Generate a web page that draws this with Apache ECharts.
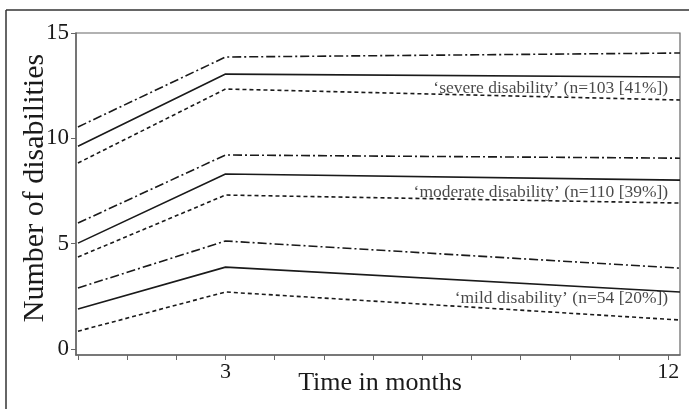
<!DOCTYPE html>
<html>
<head>
<meta charset="utf-8">
<script src="https://cdn.jsdelivr.net/npm/echarts@6/dist/echarts.min.js"></script>
<style>
html,body{margin:0;padding:0;background:#fff;}
#c{width:689px;height:409px;}
</style>
</head>
<body>
<div id="c"></div>
<script>
// Time points (months); last point is at the right edge of the plot
const timePoints = [0, 3, 12.24];

// Severe disability group
const severeUpper = [10.54, 13.86, 14.05];
const severeMean  = [9.63, 13.05, 12.91];
const severeLower = [8.83, 12.34, 11.82];

// Moderate disability group
const moderateUpper = [5.98, 9.21, 9.06];
const moderateMean  = [5.03, 8.31, 8.02];
const moderateLower = [4.37, 7.31, 6.93];

// Mild disability group
const mildUpper = [2.90, 5.13, 3.84];
const mildMean  = [1.90, 3.89, 2.71];
const mildLower = [0.85, 2.71, 1.38];

// Group labels and their anchor positions
const groupLabels = [
  "\u2018severe disability\u2019 (n=103 [41%])",
  "\u2018moderate disability\u2019 (n=110 [39%])",
  "\u2018mild disability\u2019 (n=54 [20%])"
];
const labelX = [12, 12, 12];
const labelY = [12.39, 7.45, 2.42];

const xTicks = [0,1,2,3,4,5,6,7,8,9,10,11,12];
const xTickLabels = [3, 12];
const yTicks = [0, 5, 10, 15];

const FONT = "Liberation Serif";
const INK = "#1a1a1a";

function pts(ys){ return timePoints.map((x,i)=>[x, ys[i]]); }

const styles = {
  upper: {type:[9,3,2,3], width:1.6},
  mean:  {type:'solid', width:1.6},
  lower: {type:[4,3], width:1.6}
};

const groups = [
  [severeUpper, severeMean, severeLower],
  [moderateUpper, moderateMean, moderateLower],
  [mildUpper, mildMean, mildLower]
];

const series = [];
groups.forEach(g=>{
  ['upper','mean','lower'].forEach((k,i)=>{
    series.push({
      type:'line', data: pts(g[i]), symbol:'none', silent:true,
      lineStyle:{color:INK, width:styles[k].width, type:styles[k].type}
    });
  });
});
series.push({
  type:'scatter', symbolSize:0, silent:true,
  data: groupLabels.map((t,i)=>({value:[labelX[i], labelY[i]], name:t})),
  label:{show:true, position:'left', distance:0, formatter:p=>p.name,
    fontFamily:FONT, fontSize:17.5, color:INK}
});

const chart = echarts.init(document.getElementById('c'), null, {renderer:'canvas'});
chart.setOption({
  animation:false,
  backgroundColor:'#fff',
  grid:{left:76, right:9, top:33, bottom:54, show:true, borderColor:'#666', borderWidth:1.2},
  xAxis:{
    type:'value', min:-0.04, max:12.24,
    axisLine:{show:true, onZero:false, lineStyle:{color:'#666', width:1.5}},
    axisTick:{show:true, customValues:xTicks, length:5, inside:false, lineStyle:{color:'#666'}},
    axisLabel:{show:true, customValues:xTickLabels, fontFamily:FONT, fontSize:22, color:INK, margin:6},
    splitLine:{show:false}
  },
  yAxis:{
    type:'value', min:-0.28, max:15,
    axisLine:{show:true, onZero:false, lineStyle:{color:'#666', width:1.5}},
    axisTick:{show:true, customValues:yTicks, length:5, lineStyle:{color:'#666'}},
    axisLabel:{show:true, customValues:yTicks, fontFamily:FONT, fontSize:23, color:INK, margin:7},
    splitLine:{show:false}
  },
  graphic:[
    {type:'line', shape:{x1:6, y1:10, x2:689, y2:10}, style:{stroke:'#333', lineWidth:1.5}},
    {type:'line', shape:{x1:6, y1:10, x2:6, y2:409}, style:{stroke:'#333', lineWidth:1.5}},
    {type:'text', x:380, y:383, style:{text:'Time in months', font:'26px "Liberation Serif"', fill:INK, align:'center', verticalAlign:'middle'}},
    {type:'text', x:35, y:188, rotation:Math.PI/2, style:{text:'Number of disabilities', font:'30px "Liberation Serif"', fill:INK, align:'center', verticalAlign:'middle'}}
  ],
  series: series
});
</script>
</body>
</html>
